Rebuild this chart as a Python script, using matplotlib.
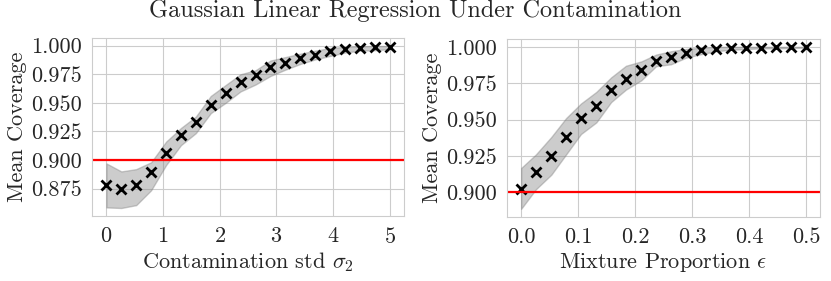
import matplotlib
matplotlib.use('Agg')
import matplotlib.pyplot as plt
import seaborn as sns

# contamination std sweep (left panel)
sigma2 = [0.0, 0.263, 0.526, 0.789, 1.053, 1.316, 1.579, 1.842, 2.105, 2.368,
          2.632, 2.895, 3.158, 3.421, 3.684, 3.947, 4.211, 4.474, 4.737, 5.0]
cov_sigma = [0.878, 0.8745, 0.8785, 0.8895, 0.906, 0.9215, 0.933, 0.9485, 0.959, 0.9685,
             0.974, 0.981, 0.985, 0.989, 0.992, 0.995, 0.997, 0.998, 0.9988, 0.9991]
lo_sigma = [0.8585, 0.858, 0.8605, 0.8735, 0.8955, 0.913, 0.9235, 0.941, 0.950, 0.960,
            0.966, 0.9735, 0.979, 0.984, 0.988, 0.991, 0.994, 0.9956, 0.996, 0.997]
hi_sigma = [0.897, 0.890, 0.892, 0.898, 0.916, 0.928, 0.938, 0.956, 0.9656, 0.975,
            0.9785, 0.987, 0.990, 0.993, 0.9956, 0.998, 0.999, 0.9995, 0.9997, 0.9997]

# mixture proportion sweep (right panel)
eps = [0.0, 0.026, 0.053, 0.079, 0.105, 0.132, 0.158, 0.184, 0.211, 0.237,
       0.263, 0.289, 0.316, 0.342, 0.368, 0.395, 0.421, 0.447, 0.474, 0.5]
cov_eps = [0.902, 0.914, 0.925, 0.938, 0.951, 0.9595, 0.970, 0.978, 0.984, 0.990,
           0.993, 0.996, 0.9977, 0.9986, 0.999, 0.9994, 0.9995, 0.9996, 0.9997, 0.9998]
lo_eps = [0.8885, 0.902, 0.912, 0.926, 0.940, 0.948, 0.962, 0.9706, 0.977, 0.9867,
          0.988, 0.9925, 0.995, 0.997, 0.998, 0.9985, 0.999, 0.999, 0.9992, 0.9995]
hi_eps = [0.9166, 0.926, 0.938, 0.951, 0.961, 0.969, 0.979, 0.987, 0.990, 0.9947,
          0.997, 0.9985, 0.9995, 1.0, 1.0, 1.0, 1.0, 1.0, 1.0, 1.0]

target = 0.9

sns.set_style('whitegrid')
plt.rcParams['font.family'] = 'serif'
plt.rcParams['font.serif'] = ['cmr10']
plt.rcParams['mathtext.fontset'] = 'cm'
plt.rcParams['axes.formatter.use_mathtext'] = True

fig = plt.figure(figsize=(8.31, 2.81), dpi=100)
ax1 = fig.add_axes([0.111, 0.231, 0.375, 0.634])
ax2 = fig.add_axes([0.610, 0.228, 0.377, 0.634])

panels = [
    (ax1, sigma2, cov_sigma, lo_sigma, hi_sigma, r'Contamination std $\sigma_2$', [0, 1, 2, 3, 4, 5]),
    (ax2, eps, cov_eps, lo_eps, hi_eps, r'Mixture Proportion $\epsilon$', [0.0, 0.1, 0.2, 0.3, 0.4, 0.5]),
]
for ax, x, y, lo, hi, xlabel, xt in panels:
    ax.fill_between(x, lo, hi, color='gray', alpha=0.4)
    ax.plot(x, y, 'x', color='black', markersize=7, markeredgewidth=2)
    ax.axhline(target, color='red', lw=1.6)
    ax.set_xticks(xt)
    ax.yaxis.set_major_locator(matplotlib.ticker.MultipleLocator(0.025))
    ax.set_xlabel(xlabel, fontsize=16, labelpad=3)
    ax.set_ylabel('Mean Coverage', fontsize=16, labelpad=3)
    ax.tick_params(labelsize=16, pad=4)
    ax.yaxis.set_major_formatter(matplotlib.ticker.FormatStrFormatter('%.3f'))
    if ax is ax2:
        ax.xaxis.set_major_formatter(matplotlib.ticker.FormatStrFormatter('%.1f'))

fig.suptitle('Gaussian Linear Regression Under Contamination', fontsize=17.5, y=1.0)
fig.savefig('out.png')
